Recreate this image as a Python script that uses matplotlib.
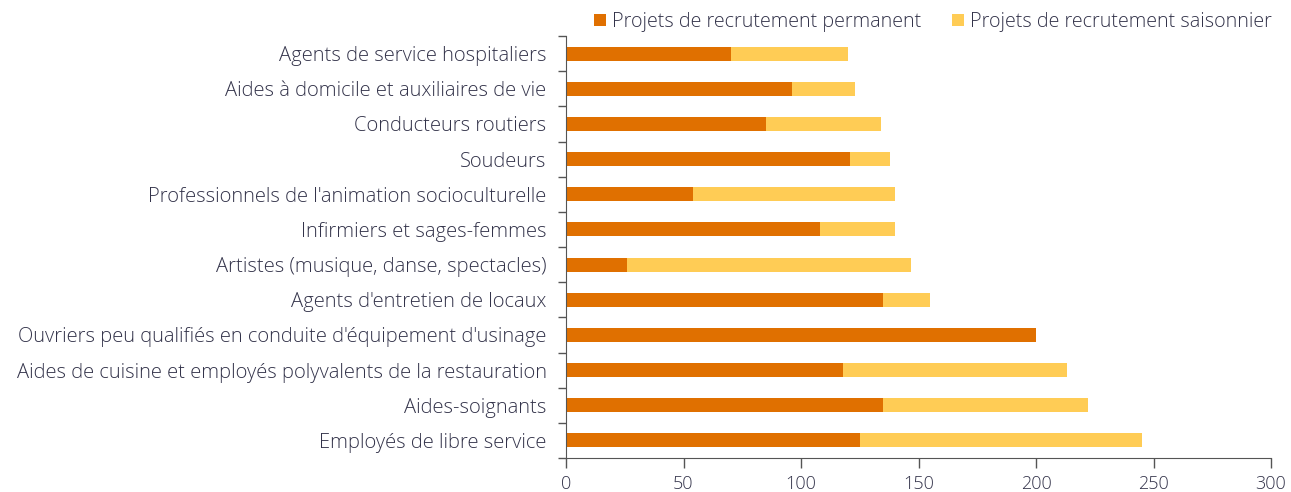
import matplotlib.pyplot as plt
import numpy as np

plt.rcParams['font.family'] = ['Open Sans', 'DejaVu Sans']
plt.rcParams['font.weight'] = 'light'

metiers = [
    'Agents de service hospitaliers',
    'Aides à domicile et auxiliaires de vie',
    'Conducteurs routiers',
    'Soudeurs',
    "Professionnels de l'animation socioculturelle",
    'Infirmiers et sages-femmes',
    'Artistes (musique, danse, spectacles)',
    "Agents d'entretien de locaux",
    "Ouvriers peu qualifiés en conduite d'équipement d'usinage",
    'Aides de cuisine et employés polyvalents de la restauration',
    'Aides-soignants',
    'Employés de libre service',
]
permanent = [70, 96, 85, 121, 54, 108, 26, 135, 200, 118, 135, 125]
saisonnier = [50, 27, 49, 17, 86, 32, 121, 20, 0, 95, 87, 120]

text_col = '#33334a'
c_perm = '#e07000'
c_sais = '#ffcc55'

fig = plt.figure(figsize=(12.91, 4.92), dpi=100)
ax = fig.add_axes([566 / 1291, 1 - 458 / 492, (1271 - 566) / 1291, (458 - 36) / 492])

# first category on top
y = np.arange(len(metiers))[::-1]
ax.barh(y, permanent, height=0.4, color=c_perm, label='Projets de recrutement permanent')
ax.barh(y, saisonnier, left=permanent, height=0.4, color=c_sais,
        label='Projets de recrutement saisonnier')

ax.set_xlim(0, 300)
ax.set_ylim(-0.5, len(metiers) - 0.5)
ax.set_xticks(np.arange(0, 301, 50))
ax.set_yticks(y)
ax.set_yticklabels(metiers)
ax.set_yticks(np.arange(-0.5, len(metiers), 1), minor=True)

ax.tick_params(axis='y', which='major', length=0, pad=14, labelsize=14.5, labelcolor=text_col)
ax.tick_params(axis='y', which='minor', length=6, width=1, color='#555555')
ax.tick_params(axis='x', length=7, width=1, color='#555555', pad=5,
               labelsize=13, labelcolor=text_col)

for s in ['top', 'right']:
    ax.spines[s].set_visible(False)
for s in ['left', 'bottom']:
    ax.spines[s].set_color('#555555')

leg = fig.legend(loc='center left', bbox_to_anchor=(586 / 1291, 1 - 22 / 492), ncol=2,
                 frameon=False, fontsize=14.2, handlelength=0.6, handleheight=0.6,
                 handletextpad=0.3, columnspacing=1.6, borderaxespad=0)
for t in leg.get_texts():
    t.set_color(text_col)

fig.savefig('out.png', dpi=100)
